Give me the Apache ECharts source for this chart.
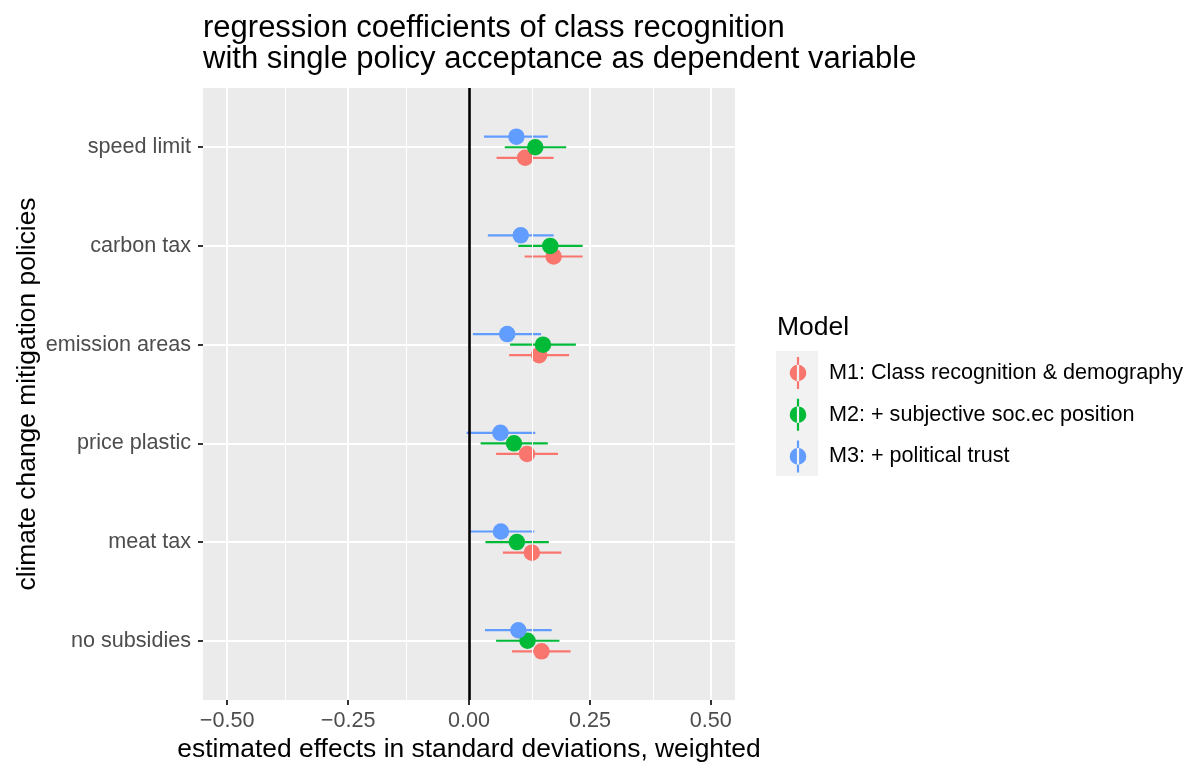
<!DOCTYPE html>
<html>
<head>
<meta charset="utf-8">
<script src="https://cdn.jsdelivr.net/npm/echarts@6/dist/echarts.min.js"></script>
<style>
  html, body { margin: 0; padding: 0; background: #ffffff; }
  #chart { width: 1192px; height: 765px; }
</style>
</head>
<body>
<div id="chart"></div>
<script>
// Policies, listed top to bottom
const policies = ['speed limit', 'carbon tax', 'emission areas', 'price plastic', 'meat tax', 'no subsidies'];

const models = [
  'M1: Class recognition & demography',
  'M2: + subjective soc.ec position',
  'M3: + political trust'
];

// Point estimates per policy (same order as policies)
const m1Estimate = [0.116, 0.175, 0.145, 0.120, 0.130, 0.150];
const m2Estimate = [0.137, 0.168, 0.153, 0.093, 0.099, 0.121];
const m3Estimate = [0.098, 0.107, 0.079, 0.065, 0.066, 0.102];

// Lower / upper interval bounds
const m1Lower = [0.057, 0.115, 0.083, 0.056, 0.070, 0.089];
const m1Upper = [0.175, 0.235, 0.207, 0.184, 0.191, 0.210];
const m2Lower = [0.074, 0.102, 0.085, 0.024, 0.034, 0.056];
const m2Upper = [0.201, 0.235, 0.221, 0.163, 0.165, 0.187];
const m3Lower = [0.031, 0.039, 0.008, -0.005, 0.001, 0.033];
const m3Upper = [0.163, 0.175, 0.149, 0.137, 0.135, 0.171];

// Axis breaks
const xMajorBreaks = [-0.5, -0.25, 0, 0.25, 0.5];
const xMinorBreaks = [-0.375, -0.125, 0.125, 0.375];

const colors = ['#F8766D', '#00BA38', '#619CFF'];
const FONT = '"Liberation Sans", Arial, Helvetica, sans-serif';

// vertical dodge of the three models within a policy row
const dodge = [0.107, 0, -0.107];

const estimates = [m1Estimate, m2Estimate, m3Estimate];
const lowers = [m1Lower, m2Lower, m3Lower];
const uppers = [m1Upper, m2Upper, m3Upper];

// legend key: a point with a vertical range line through it
const keyIcon = 'path://M19.9 5 L22.1 5 L22.1 37 L19.9 37 Z M12.7 21 A8.3 8.3 0 1 0 29.3 21 A8.3 8.3 0 1 0 12.7 21 Z';

const series = [];

// point estimates (listed first so the legend takes their colours)
models.forEach((name, m) => {
  series.push({
    name: name,
    type: 'scatter',
    z: 4 + m,
    symbol: 'circle',
    symbolSize: 16.5,
    itemStyle: { color: colors[m], opacity: 1 },
    emphasis: { disabled: true },
    data: policies.map((p, i) => [estimates[m][i], i + 1 + dodge[m]])
  });
});

// horizontal interval lines
models.forEach((name, m) => {
  series.push({
    name: name,
    type: 'custom',
    z: 3,
    silent: true,
    itemStyle: { color: colors[m] },
    encode: { x: [1, 2], y: 0 },
    data: policies.map((p, i) => [i + 1 + dodge[m], lowers[m][i], uppers[m][i]]),
    renderItem: function (params, api) {
      const a = api.coord([api.value(1), api.value(0)]);
      const b = api.coord([api.value(2), api.value(0)]);
      return {
        type: 'line',
        shape: { x1: a[0], y1: a[1], x2: b[0], y2: b[1] },
        style: { stroke: colors[m], lineWidth: 2.2 }
      };
    }
  });
});

// reference lines: minor grid and zero line
series.push({
  type: 'line',
  data: [],
  silent: true,
  z: 1,
  markLine: {
    silent: true,
    symbol: ['none', 'none'],
    label: { show: false },
    animation: false,
    data: xMinorBreaks.map(v => ({ xAxis: v, lineStyle: { color: '#ffffff', width: 1, type: 'solid' } }))
      .concat([{ xAxis: 0, lineStyle: { color: '#000000', width: 2.6, type: 'solid' } }])
  }
});

const chart = echarts.init(document.getElementById('chart'), null, { renderer: 'canvas' });
chart.setOption({
  animation: false,
  backgroundColor: '#ffffff',
  color: colors,
  title: [
    {
      text: 'regression coefficients of class recognition\nwith single policy acceptance as dependent variable',
      left: 203,
      top: 13,
      padding: 0,
      textStyle: { fontFamily: FONT, fontSize: 31, lineHeight: 31, fontWeight: 'normal', color: '#000000' }
    },
    {
      text: 'Model',
      left: 777,
      top: 314,
      padding: 0,
      textStyle: { fontFamily: FONT, fontSize: 26.5, fontWeight: 'normal', color: '#000000' }
    }
  ],
  legend: {
    orient: 'vertical',
    left: 789.7,
    top: 357,
    padding: 0,
    itemWidth: 52,
    itemHeight: 32,
    itemGap: 9.7,
    selectedMode: false,
    textStyle: { fontFamily: FONT, fontSize: 21.6, color: '#000000' },
    data: models.map(n => ({ name: n, icon: keyIcon }))
  },
  graphic: [
    {
      type: 'rect',
      left: 776,
      top: 351,
      z: -1,
      shape: { width: 42, height: 125 },
      style: { fill: '#F2F2F2' }
    }
  ],
  grid: {
    left: 203,
    right: 457,
    top: 88,
    bottom: 65,
    outerBoundsMode: 'none',
    containLabel: false,
    show: true,
    backgroundColor: '#EBEBEB',
    borderWidth: 0
  },
  xAxis: {
    type: 'value',
    min: -0.55,
    max: 0.55,
    name: 'estimated effects in standard deviations, weighted',
    nameLocation: 'middle',
    nameGap: 35,
    nameTextStyle: { fontFamily: FONT, fontSize: 26.4, color: '#000000' },
    axisLine: { show: false, onZero: false },
    axisTick: { show: true, customValues: xMajorBreaks, length: 5, lineStyle: { color: '#333333', width: 2 } },
    axisLabel: {
      customValues: xMajorBreaks,
      fontFamily: FONT, fontSize: 21.6, color: '#4D4D4D', margin: 10,
      formatter: v => (v < 0 ? '\u2212' : '') + Math.abs(v).toFixed(2)
    },
    splitLine: { show: true, lineStyle: { color: '#ffffff', width: 2 } }
  },
  yAxis: {
    type: 'value',
    min: 0.4,
    max: 6.6,
    inverse: true,
    name: 'climate change mitigation policies',
    nameLocation: 'middle',
    nameGap: 162,
    nameTextStyle: { fontFamily: FONT, fontSize: 26.4, color: '#000000' },
    axisLine: { show: false, onZero: false },
    axisTick: { show: true, customValues: [1, 2, 3, 4, 5, 6], length: 5, lineStyle: { color: '#333333', width: 2 } },
    axisLabel: {
      customValues: [1, 2, 3, 4, 5, 6],
      fontFamily: FONT, fontSize: 21.6, color: '#4D4D4D', margin: 12,
      formatter: v => policies[Math.round(v) - 1]
    },
    splitLine: { show: true, lineStyle: { color: '#ffffff', width: 2 } }
  },
  series: series
});
</script>
</body>
</html>
